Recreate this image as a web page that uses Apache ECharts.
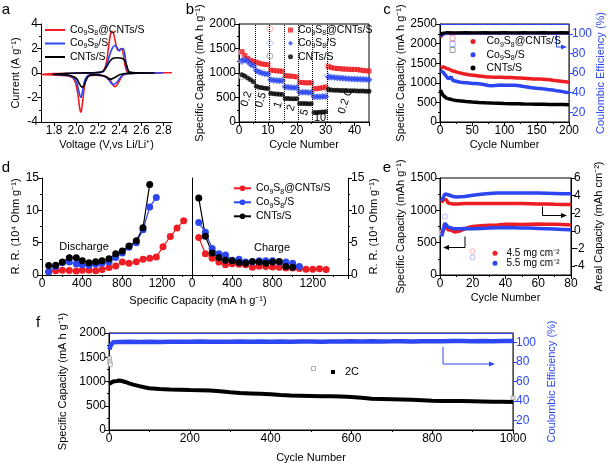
<!DOCTYPE html>
<html><head><meta charset="utf-8">
<script src="https://cdn.jsdelivr.net/npm/echarts@6/dist/echarts.min.js"></script>
<style>html,body{margin:0;padding:0;background:#fff}#c{width:610px;height:471px}</style>
</head><body><div id="c"></div><script>
const FONT = '"Liberation Sans", Arial, sans-serif';
const RED = '#ee1d23', BLUE = '#2b46f2', BLACK = '#000000';
const PRED = '#f3a0a6', PBLUE = '#a0aaf0', GREY = '#9a9a9a';
const N1 = 'Co₉S₈@CNTs/S', N2 = 'Co₉S₈/S', N3 = 'CNTs/S';

// ---------- panel a: CV curves [voltage, current] ----------
const aXTicks = [1.8, 2.0, 2.2, 2.4, 2.6, 2.8];
const aRed = [[2.88,0.02],[2.7,0.01],[2.55,-0.02],[2.47,-0.05],[2.43,-0.2],[2.4,-0.6],[2.375,-1.0],[2.357,-1.12],[2.34,-1.0],[2.32,-0.65],[2.29,-0.35],[2.24,-0.22],[2.18,-0.17],[2.12,-0.22],[2.09,-0.55],[2.075,-1.3],[2.062,-2.3],[2.052,-3.0],[2.045,-3.2],[2.035,-2.9],[2.022,-2.0],[2.005,-1.1],[1.985,-0.55],[1.95,-0.3],[1.88,-0.2],[1.78,-0.15],[1.68,-0.12],
  [1.68,-0.1],[1.8,-0.05],[1.95,-0.02],[2.1,0.0],[2.2,0.03],[2.25,0.15],[2.28,0.9],[2.3,2.2],[2.315,3.1],[2.33,3.4],[2.345,3.2],[2.36,2.6],[2.375,2.0],[2.39,1.85],[2.405,1.95],[2.42,2.0],[2.435,1.5],[2.45,0.6],[2.465,0.15],[2.49,0.04],[2.6,0.02],[2.88,0.02]];
const aBlue = [[2.8,0.0],[2.6,-0.01],[2.47,-0.04],[2.43,-0.15],[2.4,-0.45],[2.37,-0.8],[2.345,-0.95],[2.325,-0.85],[2.3,-0.55],[2.27,-0.3],[2.22,-0.18],[2.16,-0.14],[2.11,-0.2],[2.085,-0.5],[2.07,-1.0],[2.058,-1.6],[2.048,-2.0],[2.038,-1.9],[2.025,-1.4],[2.008,-0.8],[1.985,-0.45],[1.95,-0.25],[1.88,-0.16],[1.79,-0.13],
  [1.79,-0.1],[1.9,-0.04],[2.05,0.0],[2.2,0.03],[2.25,0.12],[2.28,0.6],[2.31,1.5],[2.335,2.05],[2.355,2.25],[2.375,2.1],[2.395,1.8],[2.415,1.95],[2.435,2.0],[2.45,1.4],[2.465,0.5],[2.48,0.1],[2.52,0.02],[2.8,0.0]];
const aBlack = [[2.72,0.0],[2.55,-0.01],[2.45,-0.04],[2.4,-0.15],[2.36,-0.35],[2.33,-0.48],[2.31,-0.5],[2.29,-0.4],[2.26,-0.25],[2.2,-0.15],[2.14,-0.15],[2.11,-0.3],[2.09,-0.65],[2.075,-1.0],[2.062,-1.15],[2.048,-1.1],[2.03,-0.85],[2.01,-0.5],[1.98,-0.3],[1.92,-0.17],[1.85,-0.12],[1.79,-0.1],
  [1.79,-0.08],[1.9,-0.04],[2.05,0.0],[2.2,0.04],[2.25,0.15],[2.28,0.5],[2.31,0.95],[2.34,1.2],[2.38,1.25],[2.42,1.2],[2.445,1.05],[2.465,0.6],[2.48,0.2],[2.5,0.05],[2.55,0.01],[2.72,0.0]];

// ---------- panel b: rate capability (cycles 1..45) ----------
const bRed = [1435,1360,1300,1260,1240, 1220,1200,1185,1175,1170, 1060,1050,1045,1040,1035, 945,940,935,930,920, 810,805,800,800,800, 680,680,690,700,715, 1130,1110,1100,1090,1090,1080,1080,1075,1070,1075,1070,1060,1050,1045,1040];
const bBlue = [1250,1265,1240,1180,1150, 1050,1020,1000,985,975, 860,850,845,840,840, 720,710,705,700,700, 605,605,605,600,600, 515,515,515,520,520, 920,915,910,905,900,895,890,885,880,880,875,875,870,865,860];
const bBlack = [965,940,900,860,820, 730,710,700,690,685, 585,575,570,565,560, 480,478,475,475,472, 380,378,376,375,375, 195,195,200,205,210, 665,655,650,648,645,642,640,640,638,636,635,633,632,630,630];
const bRedOpen = [[1,1420],[10.7,1900],[30.7,1150]];
const bBlueOpen = [[1,1235],[10.7,1610],[30.7,940]];
const bBlackOpen = [[1,930],[10.7,1345],[30.7,660]];
const bRateEdges = [5.5,10.5,15.5,20.5,25.5,30.5];
const bRateLabels = ['0.2','0.5','1','2','5','10','0.2 C'];

// ---------- panel c: cycling at 0.5C ----------
const cRed = [[1,1380],[3,1400],[5,1410],[8,1390],[10,1370],[15,1340],[20,1300],[25,1280],[30,1255],[35,1235],[40,1220],[45,1205],[50,1195],[55,1185],[60,1175],[65,1165],[70,1155],[75,1150],[80,1145],[85,1142],[90,1140],[95,1140],[100,1138],[105,1135],[110,1135],[115,1130],[120,1125],[125,1120],[130,1115],[135,1110],[140,1105],[145,1100],[150,1098],[155,1095],[160,1090],[165,1085],[170,1075],[175,1065],[180,1055],[185,1045],[190,1035],[195,1025],[200,1015]];
const cBlue = [[1,1310],[3,1290],[5,1270],[8,1200],[10,1150],[13,1100],[15,1070],[17,1150],[20,1060],[25,1040],[30,1020],[35,1005],[40,1000],[45,995],[50,985],[55,980],[60,975],[65,965],[70,950],[75,930],[80,925],[85,930],[90,940],[95,945],[100,940],[105,935],[110,940],[115,940],[120,930],[125,920],[130,905],[135,895],[140,880],[145,870],[150,860],[155,855],[160,845],[165,835],[170,820],[175,815],[180,800],[185,790],[190,775],[195,760],[200,750]];
const cBlack = [[1,820],[2,760],[3,720],[5,680],[8,640],[10,610],[15,585],[20,565],[25,550],[30,540],[40,525],[50,512],[60,500],[70,490],[80,482],[90,476],[100,470],[110,468],[120,465],[130,460],[140,456],[150,452],[160,450],[170,448],[180,446],[190,444],[200,440]];
const cRedCE = [[1,96],[3,99],[5,100.2],[10,100.5],[20,100.3],[30,100.5],[40,100.4],[50,100.6],[60,100.5],[70,100.4],[80,100.6],[90,100.5],[100,100.5],[110,100.6],[120,100.4],[130,100.5],[140,100.6],[150,100.5],[160,100.4],[170,100.6],[180,100.5],[190,100.5],[200,100.6]];
const cBlueCE = [[1,97],[3,99.5],[5,100.3],[10,100.6],[20,100.5],[30,100.7],[40,100.5],[50,100.6],[60,100.7],[70,100.5],[80,100.6],[90,100.7],[100,100.6],[110,100.5],[120,100.7],[130,100.6],[140,100.5],[150,100.7],[160,100.6],[170,100.5],[180,100.7],[190,100.6],[200,100.6]];
const cBlackCE = [[1,98],[3,100.5],[5,101],[10,101.2],[20,101],[30,101.1],[40,101.2],[50,101],[60,101.1],[70,101.2],[80,101],[90,101.1],[100,101.2],[110,101.1],[120,101],[130,101.2],[140,101.1],[150,101],[160,101.2],[170,101.1],[180,101],[190,101.2],[200,101.1]];
const ceTicks = [20, 40, 60, 80, 100];

// ---------- panel d: reaction resistance [capacity, R.R.] ----------
const dDisRed = [[67,0.5],[137,0.65],[203,0.75],[273,0.7],[343,0.6],[403,0.75],[470,0.75],[537,0.65],[600,0.85],[670,1.15],[737,1.4],[803,2.0],[870,1.8],[943,2.05],[1010,2.45],[1077,2.6],[1143,2.8],[1210,4.35],[1283,5.95],[1350,7.25],[1417,8.4]];
const dDisBlue = [[67,0.5],[137,1.3],[203,1.9],[273,2.0],[343,1.7],[403,1.6],[470,1.5],[537,1.65],[600,1.8],[670,2.0],[737,2.7],[803,3.4],[870,4.3],[943,5.0],[1010,7.0],[1077,10.5],[1143,12.0]];
const dDisBlack = [[67,1.45],[137,1.5],[203,2.0],[273,2.65],[343,2.65],[403,2.2],[470,1.9],[537,2.05],[600,2.2],[670,2.5],[737,3.3],[803,3.7],[870,4.5],[943,5.3],[1010,7.3],[1077,14.0]];
const dChRed = [[67,5.8],[133,3.3],[200,2.6],[267,2.0],[333,1.6],[400,1.75],[467,1.65],[533,1.6],[600,1.2],[667,1.35],[733,1.3],[800,1.25],[867,1.2],[933,1.1],[1000,1.1],[1067,1.0],[1133,0.9],[1200,0.9],[1267,0.95],[1333,0.85]];
const dChBlue = [[67,8.1],[133,6.6],[200,4.1],[267,3.3],[333,3.1],[400,2.3],[467,2.45],[533,2.0],[600,2.0],[667,2.2],[733,2.2],[800,2.2],[867,2.0],[933,2.0],[1000,1.8],[1067,1.3]];
const dChBlack = [[67,11.9],[133,6.0],[200,3.4],[267,2.7],[333,2.3],[400,2.2],[467,1.95],[533,1.8],[600,2.1],[667,2.0],[733,1.8],[800,2.0],[867,2.1],[933,1.3],[1000,1.2]];

// ---------- panel e: high loading ----------
const eRedCap = [[1,640],[2,700],[3,750],[4,780],[5,700],[6,680],[7,690],[8,670],[9,665],[10,660],[12,680],[14,700],[16,720],[18,740],[20,750],[25,760],[30,770],[35,775],[40,785],[45,785],[50,780],[55,785],[60,790],[65,785],[70,785],[75,780],[80,775]];
const eBlueCap = [[1,600],[2,700],[3,800],[4,790],[5,740],[6,725],[8,720],[10,715],[12,715],[15,720],[20,715],[25,720],[30,725],[35,730],[40,735],[45,730],[50,725],[55,725],[60,720],[65,715],[70,710],[75,705],[80,700]];
const eRedAreal = [[1,3.2],[2,3.6],[3,3.75],[4,3.5],[5,3.15],[6,3.1],[8,3.05],[10,3.05],[15,3.1],[20,3.1],[25,3.1],[30,3.1],[35,3.1],[40,3.1],[45,3.1],[50,3.1],[55,3.08],[60,3.05],[65,3.05],[70,3.02],[75,3.0],[80,3.0]];
const eBlueAreal = [[1,3.4],[2,3.8],[3,4.2],[4,4.35],[5,4.1],[6,3.95],[8,3.9],[10,3.85],[15,3.9],[20,4.05],[25,4.15],[30,4.25],[35,4.3],[40,4.3],[45,4.3],[50,4.3],[55,4.3],[60,4.3],[65,4.28],[70,4.25],[75,4.22],[80,4.2]];
const eRedOpen = [[1,660],[3,770]];
const eBlueOpen = [[1,640],[3,905]];
const eArealTicks = [-4, -2, 0, 2, 4, 6];

// ---------- panel f: long cycling at 2C ----------
const fCap = [[1,950],[3,960],[5,980],[10,1000],[15,1005],[20,1010],[25,1020],[30,1015],[40,990],[50,960],[60,935],[75,905],[90,875],[100,860],[125,845],[150,835],[175,830],[200,825],[225,822],[250,815],[275,800],[300,780],[325,765],[350,755],[375,745],[400,735],[425,720],[450,710],[475,705],[500,700],[525,695],[550,695],[575,690],[600,680],[625,665],[650,645],[675,640],[700,635],[725,630],[750,625],[775,615],[800,605],[825,600],[850,598],[875,598],[900,595],[925,590],[950,585],[975,580],[1000,575]];
const fOpen = [[1,1480],[2,1400],[3,1350],[1000,660]];
const fCE = [[1,93],[2,95],[4,97],[6,99],[10,100.5],[25,100.8],[50,101],[75,100.7],[100,101],[125,100.8],[150,101.1],[175,100.9],[200,101],[225,101.2],[250,100.9],[275,101.1],[300,101],[325,101.2],[350,101],[375,101.3],[400,101.1],[425,101.2],[450,101],[475,101.3],[500,101.2],[525,101.1],[550,101.3],[575,101.2],[600,101.4],[625,101.2],[650,101.5],[675,101.3],[700,101.4],[725,101.6],[750,101.3],[775,101.5],[800,101.6],[825,101.4],[850,101.7],[875,101.8],[900,101.5],[925,101.7],[950,101.6],[975,101.8],[1000,101.7]];

// ---------- helpers ----------
function merge(a, b) {
  const r = Object.assign({}, a);
  for (const k in b) {
    const v = b[k];
    if (v && typeof v === 'object' && !Array.isArray(v) && a[k] && typeof a[k] === 'object' && !Array.isArray(a[k])) r[k] = merge(a[k], v);
    else r[k] = v;
  }
  return r;
}
function ax(o, color) {
  color = color || '#000';
  return merge({
    type: 'value',
    axisLine: {show: true, onZero: false, lineStyle: {color, width: 1}},
    axisTick: {show: true, inside: false, length: 4, lineStyle: {color, width: 1}},
    minorTick: {show: true, splitNumber: 2, length: 2, lineStyle: {color, width: 1}},
    axisLabel: {color, fontSize: 12, fontFamily: FONT, margin: 3, formatter: v => String(v)},
    splitLine: {show: false}, minorSplitLine: {show: false},
    nameLocation: 'middle',
    nameTextStyle: {color, fontSize: 11, fontFamily: FONT}
  }, o);
}
const cyc = arr => arr.map((v, i) => [i + 1, v]);
// legend label: strip panel prefix, render subscript digits as small rich-text tokens
const nm = n => n.split('#')[1].split(/([₉₈])/).filter(Boolean)
  .map(p => p === '₉' ? '{s|9}' : p === '₈' ? '{s|8}' : '{n|' + p + '}').join('');
const lineS = (name, x, y, data, color, w, extra) => merge({
  type: 'line', name, xAxisIndex: x, yAxisIndex: y, data, symbol: 'none', showSymbol: false,
  lineStyle: {color, width: w}, itemStyle: {color}, silent: true, animation: false
}, extra || {});
const scat = (name, x, y, data, color, sym, size, extra) => merge({
  type: 'scatter', name, xAxisIndex: x, yAxisIndex: y, data, symbol: sym, symbolSize: size,
  itemStyle: {color}, silent: true, animation: false
}, extra || {});
const hollow = (name, x, y, data, color, sym, size) => ({
  type: 'scatter', name, xAxisIndex: x, yAxisIndex: y, data, symbol: sym, symbolSize: size,
  itemStyle: {color: '#fff', borderColor: color, borderWidth: 1}, silent: true, animation: false
});

const grids = [
  {left: 41, top: 24, width: 131, height: 98},                                   // a
  {left: 239, top: 24, width: 130, height: 98, show: true, borderColor: '#000', borderWidth: 1}, // b
  {left: 440, top: 24, width: 129, height: 98, show: true, borderColor: '#000', borderWidth: 1}, // c
  {left: 42, top: 178, width: 150, height: 97},                                  // d discharge
  {left: 192, top: 178, width: 156, height: 97},                                 // d charge
  {left: 440, top: 178, width: 131, height: 97, show: true, borderColor: '#000', borderWidth: 1}, // e
  {left: 109, top: 333, width: 404, height: 97, show: true, borderColor: '#000', borderWidth: 1}  // f
];

const xAxes = [
  ax({gridIndex: 0, min: 1.68, max: 2.88, axisLabel: {customValues: aXTicks, formatter: v => v.toFixed(1)}, axisTick: {customValues: aXTicks}, minorTick: {show: false}, name: 'Voltage (V,vs Li/Li⁺)', nameGap: 17}),
  ax({gridIndex: 1, min: 0, max: 45, interval: 10, axisLabel: {showMaxLabel: false}, name: 'Cycle Number', nameGap: 17}),
  ax({gridIndex: 2, min: 0, max: 200, interval: 50, name: 'Cycle Number', nameGap: 17}),
  ax({gridIndex: 3, min: 0, max: 1500, interval: 400, axisLabel: {showMaxLabel: false}}),
  ax({gridIndex: 4, min: 0, max: 1550, interval: 400, axisLabel: {showMaxLabel: false}}),
  ax({gridIndex: 5, min: 0, max: 80, interval: 20, name: 'Cycle Number', nameGap: 17}),
  ax({gridIndex: 6, min: 0, max: 1000, interval: 200, name: 'Cycle Number', nameGap: 22}),
  ax({gridIndex: 2, position: 'top', min: 0, max: 200, axisTick: {show: false}, minorTick: {show: false}, axisLabel: {show: false}}, BLUE),
  ax({gridIndex: 6, position: 'top', min: 0, max: 1000, axisTick: {show: false}, minorTick: {show: false}, axisLabel: {show: false}}, BLUE)
];
const yAxes = [
  ax({gridIndex: 0, min: -4, max: 4, interval: 2, name: 'Current (A g⁻¹)', nameGap: 20}),
  ax({gridIndex: 1, min: 0, max: 2000, interval: 500, name: 'Specific Capacity (mA h g⁻¹)', nameGap: 33}),
  ax({gridIndex: 2, min: 0, max: 2500, interval: 500, name: 'Specific Capacity (mA h g⁻¹)', nameGap: 34}),
  ax({gridIndex: 2, position: 'right', min: 10, max: 110, axisLabel: {customValues: ceTicks}, axisTick: {customValues: ceTicks}, minorTick: {show: false}, name: 'Coulombic Efficiency (%)', nameGap: 23}, BLUE),
  ax({gridIndex: 3, min: 0, max: 15, interval: 5, name: 'R. R. (10⁴ Ohm g⁻¹)', nameGap: 20}),
  ax({gridIndex: 4, position: 'right', min: 0, max: 15, interval: 5, name: 'R. R. (10⁴ Ohm g⁻¹)', nameGap: 19}),
  ax({gridIndex: 5, min: 0, max: 1500, interval: 500, name: 'Specific Capacity (mAh g⁻¹)', nameGap: 34}),
  ax({gridIndex: 5, position: 'right', min: -5, max: 6, axisLabel: {customValues: eArealTicks}, axisTick: {customValues: eArealTicks}, minorTick: {show: false}, name: 'Areal Capacity (mAh cm⁻²)', nameGap: 22}),
  ax({gridIndex: 6, min: 0, max: 2000, interval: 500, name: 'Specific Capacity (mA h g⁻¹)', nameGap: 36}),
  ax({gridIndex: 6, position: 'right', min: 10, max: 110, axisLabel: {customValues: ceTicks}, axisTick: {customValues: ceTicks}, minorTick: {show: false}, name: 'Coulombic Efficiency (%)', nameGap: 28}, BLUE),
  ax({gridIndex: 4, position: 'left', min: 0, max: 15, axisTick: {show: false}, minorTick: {show: false}, axisLabel: {show: false}})
];

const dot = {symbol: 'circle', symbolSize: 7, showSymbol: true};
const series = [
  // a
  lineS('a#' + N1, 0, 0, aRed, RED, 1.6, {smooth: 0.2}),
  lineS('a#' + N2, 0, 0, aBlue, BLUE, 1.6, {smooth: 0.2}),
  lineS('a#' + N3, 0, 0, aBlack, BLACK, 1.6, {smooth: 0.2}),
  // b
  hollow('b#o1', 1, 1, bRedOpen, PRED, 'circle', 6),
  hollow('b#o2', 1, 1, bBlueOpen, PBLUE, 'diamond', 7),
  hollow('b#o3', 1, 1, bBlackOpen, GREY, 'circle', 6),
  scat('b#' + N1, 1, 1, cyc(bRed), RED, 'rect', 5, {markLine: {silent: true, symbol: ['none', 'none'], label: {show: false}, lineStyle: {type: 'dotted', color: '#000', width: 1}, data: bRateEdges.map(x => ({xAxis: x}))}}),
  scat('b#' + N2, 1, 1, cyc(bBlue), BLUE, 'diamond', 7),
  scat('b#' + N3, 1, 1, cyc(bBlack), BLACK, 'circle', 5),
  // c
  lineS('c#ce1', 2, 3, cRedCE, RED, 3),
  lineS('c#ce2', 2, 3, cBlueCE, BLUE, 3),
  lineS('c#ce3', 2, 3, cBlackCE, BLACK, 3),
  lineS('c#' + N1, 2, 2, cRed, RED, 3.5),
  lineS('c#' + N2, 2, 2, cBlue, BLUE, 3.5),
  lineS('c#' + N3, 2, 2, cBlack, BLACK, 3.5),
  // d
  lineS('d#' + N1, 3, 4, dDisRed, RED, 1.2, dot),
  lineS('d#' + N2, 3, 4, dDisBlue, BLUE, 1.2, dot),
  lineS('d#' + N3, 3, 4, dDisBlack, BLACK, 1.2, dot),
  lineS('d2#' + N1, 4, 5, dChRed, RED, 1.2, dot),
  lineS('d2#' + N2, 4, 5, dChBlue, BLUE, 1.2, dot),
  lineS('d2#' + N3, 4, 5, dChBlack, BLACK, 1.2, dot),
  // e
  hollow('e#o1', 5, 6, eRedOpen, PRED, 'circle', 5),
  hollow('e#o2', 5, 6, eBlueOpen, PBLUE, 'circle', 5),
  lineS('e#4.5 mg cm⁻²', 5, 6, eRedCap, RED, 3.5),
  lineS('e#5.5 mg cm⁻²', 5, 6, eBlueCap, BLUE, 3.5),
  lineS('e#ar1', 5, 7, eRedAreal, RED, 3.5),
  lineS('e#ar2', 5, 7, eBlueAreal, BLUE, 3.5),
  // f
  lineS('f#ce', 6, 9, fCE, BLUE, 4.5),
  hollow('f#o', 6, 8, fOpen, GREY, 'rect', 4),
  lineS('f#2C', 6, 8, fCap, BLACK, 4)
];

const LT = (lh, extra) => {
  const fs = (extra && extra.fontSize) || 10.5;
  return Object.assign({color: '#000', fontSize: fs, fontFamily: FONT, lineHeight: lh,
    rich: {
      n: {color: '#000', fontSize: fs, fontFamily: FONT, lineHeight: lh},
      s: {color: '#000', fontSize: 7, fontFamily: FONT, lineHeight: 8, verticalAlign: 'bottom'}
    }}, extra || {});
};
const hollowIcon = (name, c, icon) => ({name, icon: icon || 'rect', itemStyle: {color: '#fff', borderColor: c, borderWidth: 1}});
const solidIcon = (name, c, icon) => ({name, icon, itemStyle: {color: c, borderWidth: 0}});
const legends = [
  {left: 45, top: 23.5, orient: 'vertical', itemWidth: 20, itemHeight: 2, itemGap: 0.5, formatter: nm, textStyle: LT(13),
   data: [solidIcon('a#' + N1, RED, 'rect'), solidIcon('a#' + N2, BLUE, 'rect'), solidIcon('a#' + N3, BLACK, 'rect')]},
  {left: 288, top: 23.4, orient: 'vertical', itemWidth: 5, itemHeight: 5, itemGap: 0, formatter: nm, textStyle: LT(13.3),
   data: [solidIcon('b#' + N1, RED, 'rect'), solidIcon('b#' + N2, BLUE, 'diamond'), solidIcon('b#' + N3, BLACK, 'circle')]},
  {left: 449.5, top: 35, orient: 'vertical', itemWidth: 5, itemHeight: 5, itemGap: 0, formatter: () => '', textStyle: LT(13.2),
   data: [hollowIcon('c#ce1', PRED), hollowIcon('c#ce2', PBLUE), hollowIcon('c#ce3', GREY)]},
  {left: 470.5, top: 35, orient: 'vertical', itemWidth: 5, itemHeight: 5, itemGap: 0, formatter: nm, textStyle: LT(13.2, {padding: [0, 0, 0, 6]}),
   data: [solidIcon('c#' + N1, RED, 'circle'), solidIcon('c#' + N2, BLUE, 'circle'), solidIcon('c#' + N3, BLACK, 'circle')]},
  {left: 233, top: 181.3, orient: 'vertical', itemWidth: 17, itemHeight: 7, itemGap: 0, formatter: nm, textStyle: LT(14),
   data: ['d#' + N1, 'd#' + N2, 'd#' + N3]},
  {left: 469.5, top: 248.3, orient: 'vertical', itemWidth: 5, itemHeight: 5, itemGap: 0, formatter: () => '', textStyle: LT(10, {fontSize: 10}),
   data: [hollowIcon('e#o1', PRED, 'circle'), hollowIcon('e#o2', PBLUE, 'circle')]},
  {left: 492.5, top: 248.3, orient: 'vertical', itemWidth: 5, itemHeight: 5, itemGap: 0, formatter: nm, textStyle: LT(10, {fontSize: 10, padding: [0, 0, 0, 4]}),
   data: [solidIcon('e#4.5 mg cm⁻²', RED, 'circle'), solidIcon('e#5.5 mg cm⁻²', BLUE, 'circle')]},
  {left: 311, top: 366, orient: 'horizontal', itemWidth: 4, itemHeight: 4, itemGap: 0, formatter: () => '', textStyle: LT(12),
   data: [hollowIcon('f#o', GREY)]},
  {left: 331, top: 366, orient: 'horizontal', itemWidth: 4, itemHeight: 4, itemGap: 0, formatter: nm, textStyle: LT(12, {fontSize: 11, padding: [0, 0, 0, 5]}),
   data: [solidIcon('f#2C', BLACK, 'rect')]}
].map(l => Object.assign(l, {padding: 0}));

const txt = (t, x, y, o) => {
  o = o || {};
  return {type: 'text', x, y, rotation: o.rot || 0, silent: true,
    style: {text: t, fill: o.color || '#000', fontSize: o.size || 12, fontFamily: FONT,
      align: o.align || 'center', verticalAlign: o.va || 'middle'}};
};
const arrow = (pts, color, dir) => {
  const [x, y] = pts[pts.length - 1];
  const hx = dir > 0 ? x + 6 : x - 6;
  return [
    {type: 'polyline', silent: true, shape: {points: pts}, style: {stroke: color, lineWidth: 1, fill: null}},
    {type: 'polygon', silent: true, shape: {points: [[hx, y], [x, y - 2.5], [x, y + 2.5]]}, style: {fill: color}}
  ];
};
const ratePos = [[246.5, 99], [261, 100], [278, 105], [291, 108], [304.5, 112.5], [320, 118], [345.5, 101]];
const graphic = [
  txt('a', 6, 10, {size: 15}), txt('b', 190, 10, {size: 15}), txt('c', 387, 10, {size: 15}),
  txt('d', 6, 168, {size: 15}), txt('e', 387, 168, {size: 15}), txt('f', 38, 323, {size: 15}),
  ...bRateLabels.map((t, i) => txt(t, ratePos[i][0], ratePos[i][1], {size: 11, rot: t === '10' ? 0 : 1.25})),
  txt('Discharge', 84, 246.5, {size: 11}), txt('Charge', 272, 248, {size: 11}),
  txt('Specific Capacity (mA h g⁻¹)', 198, 301, {size: 11}),
  ...arrow([[556.5, 35], [556.5, 47], [561, 47]], BLUE, 1),
  ...arrow([[465, 236.5], [465, 247.5], [449, 247.5]], '#000', -1),
  ...arrow([[542.5, 206.5], [542.5, 215.5], [561, 215.5]], '#000', 1),
  ...arrow([[443, 347], [443, 364], [489, 364]], BLUE, 1)
];

const chart = echarts.init(document.getElementById('c'), null, {renderer: 'canvas'});
chart.setOption({
  animation: false,
  backgroundColor: '#fff',
  textStyle: {fontFamily: FONT},
  grid: grids, xAxis: xAxes, yAxis: yAxes, series, legend: legends, graphic
});
</script></body></html>
